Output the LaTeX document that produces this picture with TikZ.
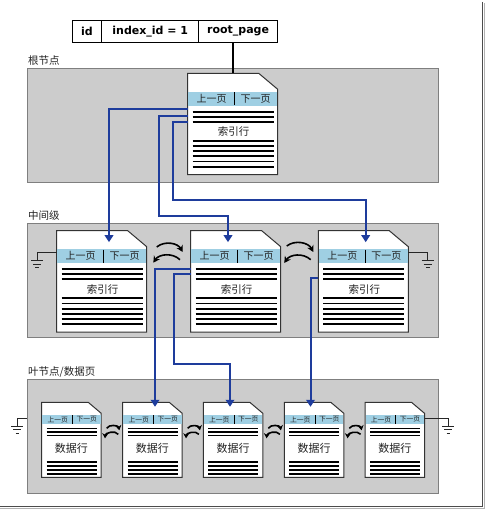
\documentclass[tikz,border=0pt]{standalone}
\usepackage{fontspec}
\setmainfont{DejaVu Sans}
\newfontfamily\cjk{Noto Sans CJK SC}
\usetikzlibrary{positioning,arrows.meta}

\definecolor{bandgray}{HTML}{CCCCCC}
\definecolor{bandedge}{HTML}{7F7F7F}
\definecolor{navblue}{HTML}{9FCFE3}
\definecolor{linkblue}{HTML}{1E3C9C}
\definecolor{inkgray}{HTML}{222222}

\tikzset{
    band/.style      = {draw = bandedge, fill = bandgray, line width = 1pt, anchor = north west,
                        minimum width = 410.5pt, minimum height = 114pt, inner sep = 0pt},
    bandlabel/.style = {font = \cjk\fontsize{10.5}{12}\selectfont, text = inkgray, anchor = base west, inner sep = 0pt},
    cell/.style      = {draw, line width = 0.9pt, minimum height = 22.3pt, inner sep = 0pt, outer sep = 0pt,
                        font = \fontsize{11}{13}\selectfont\bfseries},
    pageedge/.style  = {draw = black!80, fill = white, line width = 1pt},
    rowline/.style   = {line width = 1.8pt},
    navtext/.style   = {font = \cjk\fontsize{10}{12}\selectfont, text = inkgray, inner sep = 0pt},
    rowtext/.style   = {font = \cjk\fontsize{10.5}{12}\selectfont, text = inkgray, inner sep = 0pt},
    wire/.style      = {draw = black!85, line width = 0.9pt},
    link/.style      = {draw = linkblue, line width = 2pt, -{Triangle[width = 8.5pt, length = 7pt]}},
    pagearrow/.style = {line width = 1.6pt, -{Stealth[width = 7pt, length = 6.5pt]}},
    leafarrow/.style = {line width = 1.6pt, -{Stealth[width = 6pt, length = 5pt]}},
    pics/bigpage/.style = {code = {
        \node [anchor = north west, minimum width = 90pt, minimum height = 101.3pt, inner sep = 0pt, outer sep = 0pt] (-page) at (0,0) {};
        \path [pageedge] (0,0) -- (71,0) -- (90,16) -- (90,101.3) -- (0,101.3) -- cycle;
        \fill [navblue] (0.5,18.4) rectangle (89.5,32.4);
        \draw [line width = 0.9pt] (47,19) -- (47,32);
        \node [navtext] at (24,25.4) {上一页};
        \node [navtext] at (68,25.4) {下一页};
        \foreach \y in {38.4, 43.4, 48.4, 67.5, 72.7, 77.9, 83.1, 88.3, 93.5}
            \draw [rowline] (5,\y) -- (86,\y);
        \node [rowtext] at (46,58.4) {#1};
    }},
    pics/smallpage/.style = {code = {
        \node [anchor = north west, minimum width = 59.5pt, minimum height = 75pt, inner sep = 0pt, outer sep = 0pt] (-page) at (0,0) {};
        \path [pageedge] (0,0) -- (46.5,0) -- (59.5,11) -- (59.5,75) -- (0,75) -- cycle;
        \fill [navblue] (0.5,12.7) rectangle (59,21.7);
        \draw [line width = 0.8pt] (30.6,13) -- (30.6,21.5);
        \node [navtext, font = \cjk\fontsize{6.8}{8}\selectfont] at (16,17.2) {上一页};
        \node [navtext, font = \cjk\fontsize{6.8}{8}\selectfont] at (45,17.2) {下一页};
        \foreach \y in {26, 29.5, 33, 59.5, 63.5, 67.5, 71.5}
            \draw [line width = 1.5pt] (5,\y) -- (55,\y);
        \node [rowtext, font = \cjk\fontsize{11}{13}\selectfont] at (29.75,46) {#1};
    }},
    pics/earth/.style = {code = {
        \draw [wire] (-6,0) -- (6,0);
        \draw [wire] (-4,3.6) -- (4,3.6);
        \draw [wire] (-1.8,7.1) -- (1.8,7.1);
    }}
}

\begin{document}
\begin{tikzpicture}[x = 1pt, y = -1pt]
    \useasboundingbox (0,0) rectangle (486,510);

    % frame of the screenshot
    \draw [line width = 1pt, black!30] (484.3,3.5) -- (484.3,508.3) -- (0,508.3);
    \draw [line width = 1.5pt, black!70] (482.5,2) -- (482.5,506.5) -- (0,506.5);

    % system table row
    \node [cell, minimum width = 29.4pt] (idcell) at (86.9,31.2) {id};
    \node [cell, minimum width = 97.3pt, right = 0pt of idcell] (idxcell) {index\_id = 1};
    \node [cell, minimum width = 78.3pt, right = 0pt of idxcell] (rootcell) {root\_page};

    % levels
    \node [band] (rootband) at (27,68.3) {};
    \node [band] (midband)  at (27,223.3) {};
    \node [band] (leafband) at (27,379.3) {};

    \node [bandlabel] at ([shift = {(1,-3.5)}]rootband.north west) {根节点};
    \node [bandlabel] at ([shift = {(1,-3.5)}]midband.north west)  {中间级};
    \node [bandlabel] at ([shift = {(1,-3.5)}]leafband.north west) {叶节点/数据页};

    % pages
    \pic (root) at (187.7,73.3) {bigpage = 索引行};

    \pic (midA) at (56.7,230.7)  {bigpage = 索引行};
    \pic (midB) at (190.7,230.7) {bigpage = 索引行};
    \pic (midC) at (318.3,230.7) {bigpage = 索引行};

    \pic (leafA) at (41.7,402.3)  {smallpage = 数据行};
    \pic (leafB) at (122.7,402.3) {smallpage = 数据行};
    \pic (leafC) at (203.3,402.3) {smallpage = 数据行};
    \pic (leafD) at (284.3,402.3) {smallpage = 数据行};
    \pic (leafE) at (365,402.3)   {smallpage = 数据行};

    % root_page pointer
    \draw [line width = 1.6pt] (rootcell.south -| root-page.north) -- (root-page.north);

    % root -> intermediate
    \draw [link] ([shift = {(0,36)}]root-page.north west) -| ([shift = {(52.3,11.5)}]midA-page.north west);
    \draw [link] ([shift = {(0,42.7)}]root-page.north west) -| (159.3,215.7) -| ([shift = {(37.3,11.5)}]midB-page.north west);
    \draw [link] ([shift = {(0,49)}]root-page.north west) -| (173.3,200) -| ([shift = {(47.4,11.5)}]midC-page.north west);

    % intermediate -> leaf
    \draw [link] ([shift = {(0,38.3)}]midB-page.north west) -| ([shift = {(32.3,4.5)}]leafB-page.north west);
    \draw [link] ([shift = {(0,43.3)}]midB-page.north west) -| (174,364) -| ([shift = {(26.7,4.5)}]leafC-page.north west);
    \draw [link] ([shift = {(0,47)}]midC-page.north west) -| ([shift = {(26.2,4.5)}]leafD-page.north west);

    % prev / next between intermediate pages
    \draw [pagearrow] ([shift = {(10,16.3)}]midA-page.north east) to [bend left = 50] ([shift = {(-8,21.3)}]midB-page.north west);
    \draw [pagearrow] ([shift = {(-10.7,29)}]midB-page.north west) to [bend right = 50] ([shift = {(6.6,32)}]midA-page.north east);
    \draw [pagearrow] ([shift = {(6,15.3)}]midB-page.north east) to [bend left = 50] ([shift = {(-5,21.3)}]midC-page.north west);
    \draw [pagearrow] ([shift = {(-7.6,29)}]midC-page.north west) to [bend right = 50] ([shift = {(3.6,32.3)}]midB-page.north east);

    % prev / next between leaf pages
    \foreach \a/\b in {leafA/leafB, leafB/leafC, leafC/leafD, leafD/leafE} {
        \draw [leafarrow] ([shift = {(5.5,26)}]\a-page.north east) to [bend left = 70] ([shift = {(-3.4,28)}]\b-page.north west);
        \draw [leafarrow] ([shift = {(-4.4,32)}]\b-page.north west) to [bend right = 70] ([shift = {(3.8,36)}]\a-page.north east);
    }

    % ends of the chains
    \coordinate (gndA) at (37.2,260.7);
    \coordinate (gndC) at (427.7,260.7);
    \coordinate (gndL) at (17.3,426);
    \coordinate (gndR) at (448.3,426);

    \draw [wire] ([shift = {(0,21.6)}]midA-page.north west) -| (gndA);
    \draw [wire] ([shift = {(0,21.6)}]midC-page.north east) -| (gndC);
    \draw [wire] ([shift = {(0,39)}]leafband.north west) -| (gndL);
    \draw [wire] ([shift = {(0,16)}]leafE-page.north east) -| (gndR);

    \pic at (gndA) {earth};
    \pic at (gndC) {earth};
    \pic at (gndL) {earth};
    \pic at (gndR) {earth};
\end{tikzpicture}
\end{document}
